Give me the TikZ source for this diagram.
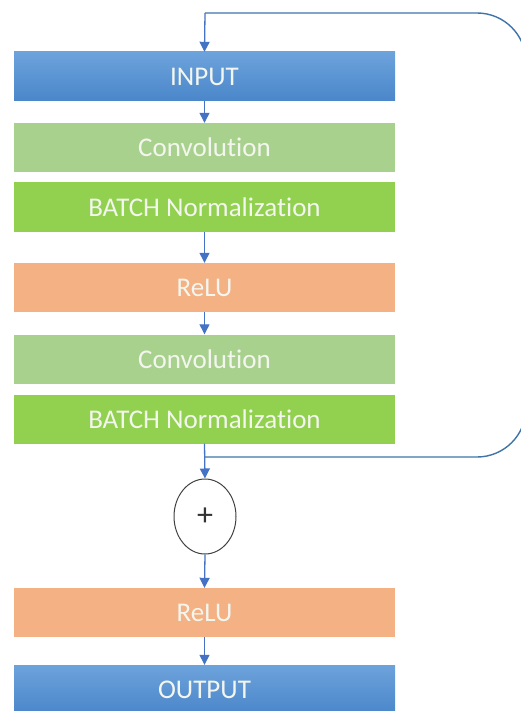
\documentclass[tikz,border=0pt]{standalone}
\usepackage{fontspec}
\setmainfont[Ligatures=NoCommon]{Carlito}
\usetikzlibrary{arrows.meta,shapes.geometric}
\definecolor{bluetop}{HTML}{6DA3DC}
\definecolor{bluebot}{HTML}{4A86CA}
\definecolor{convg}{HTML}{A9D18E}
\definecolor{bng}{HTML}{92D050}
\definecolor{reluo}{HTML}{F4B183}
\definecolor{arrowb}{HTML}{4472C4}
\definecolor{skipb}{HTML}{3E74A8}
\definecolor{txtc}{HTML}{F3F6EE}
\tikzset{
  layer/.style={minimum width=381pt,minimum height=49pt,inner sep=0pt,text=txtc,font=\fontsize{27}{32}\selectfont},
  bluebox/.style={layer,top color=bluetop,bottom color=bluebot},
  convbox/.style={layer,fill=convg},
  bnbox/.style={layer,fill=bng},
  relubox/.style={layer,fill=reluo},
  flow/.style={draw=arrowb,line width=1.3pt,-{Triangle[width=10pt,length=10pt]}},
  skipline/.style={draw=skipb,line width=1.4pt,rounded corners=49pt},
}
\begin{document}
\begin{tikzpicture}[x=1pt,y=1pt]
\useasboundingbox (0,0) rectangle (521,-711);
\node[bluebox] (in) at (204.5,-76.5) {INPUT};
\node[convbox] (c1) at (204.5,-147.5) {Convolution};
\node[bnbox] (b1) at (204.5,-207) {BATCH Normalization};
\node[relubox] (r1) at (204.5,-287.5) {ReLU};
\node[convbox] (c2) at (204.5,-359) {Convolution};
\node[bnbox] (b2) at (204.5,-419) {BATCH Normalization};
\node[ellipse,draw=black!75,line width=1pt,minimum width=62pt,minimum height=75pt,inner sep=0pt,text=black!80,font=\fontsize{32}{36}\selectfont] (add) at (205,-516.5) {+};
\node[relubox] (r2) at (204.5,-612.5) {ReLU};
\node[bluebox] (out) at (204.5,-689.5) {OUTPUT};
\coordinate (t) at (205,-13);
\coordinate (j) at (205,-457);
\draw[skipline] (j) -- (526,-457) -- (526,-13) -- (t);
\draw[flow] (t) -- (in.north);
\draw[flow] (in.south) -- (c1.north);
\draw[flow] (b1.south) -- (r1.north);
\draw[flow] (r1.south) -- (c2.north);
\draw[flow] (b2.south) -- (add.north);
\draw[flow] (add.south) -- (r2.north);
\draw[flow] (r2.south) -- (out.north);
\end{tikzpicture}
\end{document}
